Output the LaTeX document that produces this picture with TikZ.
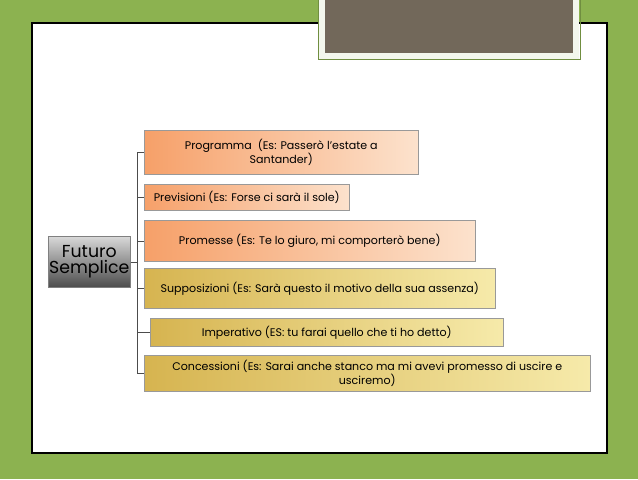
\documentclass[tikz,border=0pt]{standalone}
\usepackage{fontspec}
\setmainfont{Poppins}
\definecolor{Leaf}{RGB}{140,178,80}
\definecolor{Taupe}{RGB}{114,104,90}
\definecolor{Peach}{RGB}{246,160,105}
\definecolor{PeachLight}{RGB}{252,226,205}
\definecolor{Gold}{RGB}{214,180,80}
\definecolor{GoldLight}{RGB}{246,234,170}
\begin{document}
\begin{tikzpicture}[x=0.75pt,y=-0.75pt,
  orangebox/.style={anchor=north west, left color=Peach, right color=PeachLight, draw=black!40, align=center, font=\fontsize{8.3}{9.3}\selectfont, inner sep=0pt},
  goldbox/.style={orangebox, left color=Gold, right color=GoldLight}]

  % Background
  \useasboundingbox (0,0) rectangle (638,479);
  \fill[Leaf] (0,0) rectangle (638,479);
  \filldraw[fill=white, draw=black, line width=1pt] (32,23) rectangle (607,453);
  \filldraw[fill=Taupe, draw=white!90!Leaf, line width=5pt] (322,-5) rectangle (576,56);
  \draw[Leaf!80!black, line width=0.6pt] (318,0) -- (318,59) -- (580,59) -- (580,0);

  % Root
  \node[anchor=north west, minimum width=82*0.75pt, minimum height=51*0.75pt, inner sep=0pt, top color=white!85!black, bottom color=black!70, draw=black!50, align=center, font=\fontsize{13}{12}\selectfont] (root) at (48,236) {Futuro\\Semplice};

  % Branches
  \node[orangebox, minimum width=274*0.75pt, minimum height=44*0.75pt] (prog) at (144,130) {Programma\ \ (Es: Passerò l'estate a\\Santander)};
  \node[orangebox, minimum width=205*0.75pt, minimum height=26*0.75pt] (prev) at (144,184) {Previsioni (Es: Forse ci sarà il sole)};
  \node[orangebox, minimum width=331*0.75pt, minimum height=41*0.75pt] (prom) at (144,220) {Promesse (Es: Te lo giuro, mi comporterò bene)};
  \node[goldbox, minimum width=351*0.75pt, minimum height=40*0.75pt] (supp) at (144,268) {Supposizioni (Es: Sarà questo il motivo della sua assenza)};
  \node[goldbox, minimum width=353*0.75pt, minimum height=28*0.75pt] (imp) at (150,318) {Imperativo (ES: tu farai quello che ti ho detto)};
  \node[goldbox, minimum width=446*0.75pt, minimum height=36*0.75pt] (conc) at (144,355) {Concessioni (Es: Sarai anche stanco ma mi avevi promesso di uscire e\\usciremo)};

  % Bracket
  \coordinate (spine) at (137,0);
  \draw[black!70] (root.east) -- (spine |- root.east);
  \draw[black!70] (spine |- prog.west) -- (spine |- conc.west);
  \foreach \b in {prog,prev,prom,supp,imp,conc}
    \draw[black!70] (spine |- \b.west) -- (\b.west);
\end{tikzpicture}
\end{document}
